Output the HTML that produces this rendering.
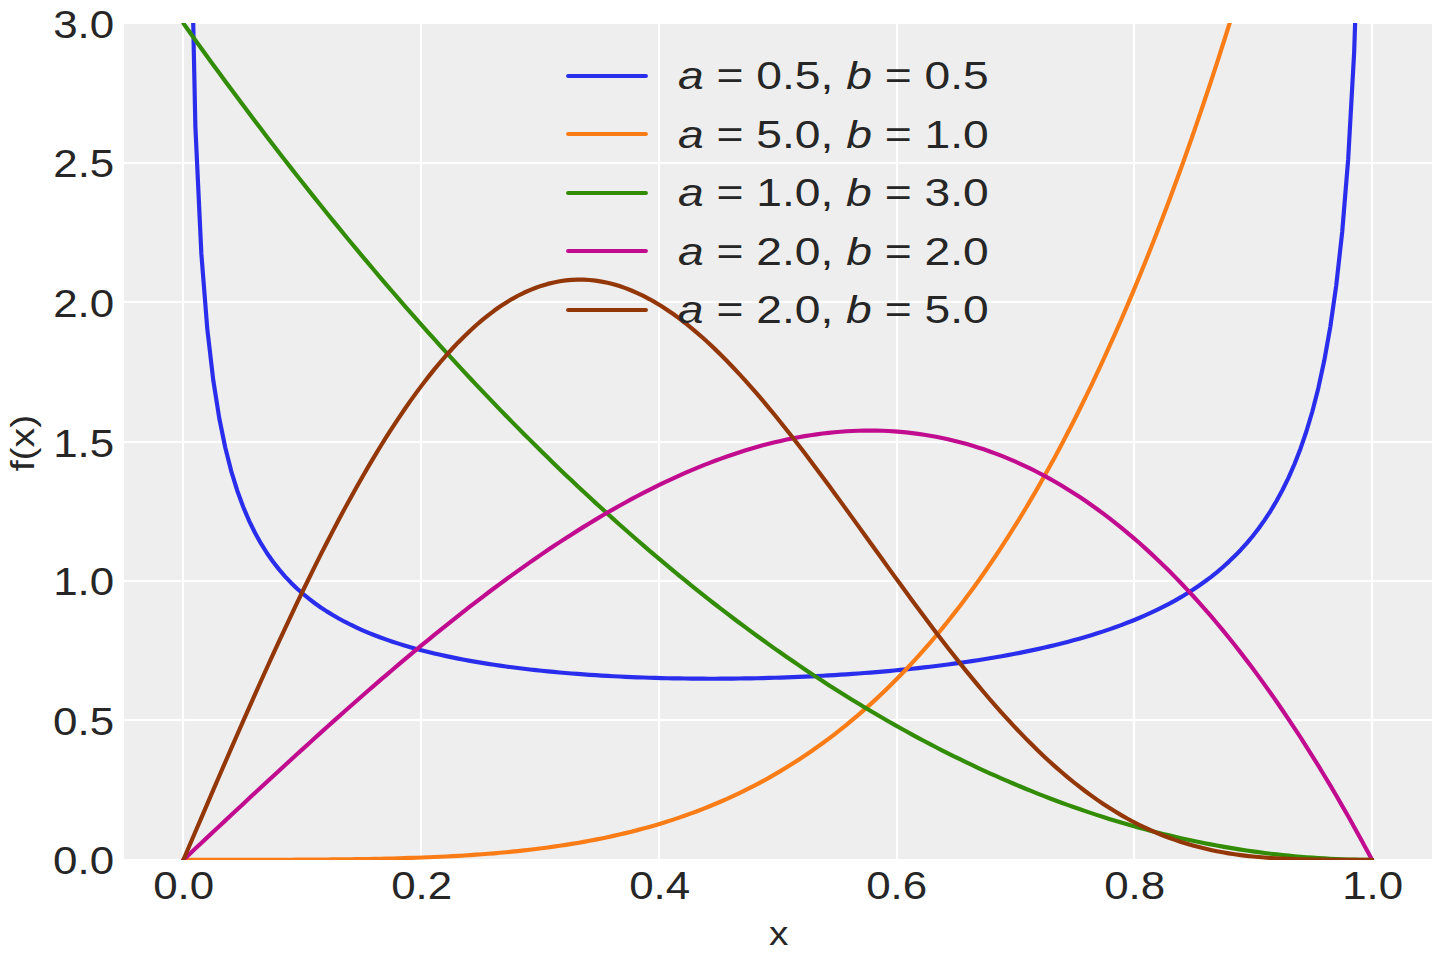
<!DOCTYPE html>
<html lang="en">
<head>
<meta charset="utf-8">
<title>Kumaraswamy distribution pdf</title>
<style>
html,body{margin:0;padding:0;background:#fff}
body{width:1440px;height:960px;overflow:hidden;font-family:"Liberation Sans",sans-serif;color:#262626}
svg{display:block;position:absolute;left:0;top:0}
.grid rect{fill:#fff}
.curve{fill:none;stroke-width:4.167;stroke-linejoin:round;stroke-linecap:round}
.txt text{font-family:"Liberation Sans",sans-serif;fill:#262626}
</style>
</head>
<body>
<svg width="1440" height="960" viewBox="0 0 1440 960" role="img" aria-label="Kumaraswamy probability density for several a, b">
<defs>
<clipPath id="axclip"><rect x="124" y="23" width="1308" height="837"/></clipPath>
<clipPath id="bgclip"><rect x="124" y="24" width="1308" height="835"/></clipPath>
</defs>
<rect width="1440" height="960" fill="#fff"/>
<rect x="124" y="24" width="1308" height="835" fill="#eee"/>
<g class="grid" clip-path="url(#bgclip)">
<rect x="181.889" y="24" width="2.222" height="835"/>
<rect x="419.889" y="24" width="2.222" height="835"/>
<rect x="657.889" y="24" width="2.222" height="835"/>
<rect x="895.889" y="24" width="2.222" height="835"/>
<rect x="1132.889" y="24" width="2.222" height="835"/>
<rect x="1370.889" y="24" width="2.222" height="835"/>
<rect x="124" y="161.889" width="1308" height="2.222"/>
<rect x="124" y="300.889" width="1308" height="2.222"/>
<rect x="124" y="440.889" width="1308" height="2.222"/>
<rect x="124" y="579.889" width="1308" height="2.222"/>
<rect x="124" y="718.889" width="1308" height="2.222"/>
</g>
<g clip-path="url(#axclip)">
<polyline class="curve" stroke="#2a2eec" points="189.40,-160.26 195.38,126.83 201.35,253.70 207.32,329.12 213.30,380.45 219.27,418.23 225.24,447.50 231.22,471.02 237.19,490.43 243.16,506.80 249.14,520.83 255.11,533.02 261.08,543.73 267.05,553.24 273.03,561.74 279.00,569.39 284.97,576.33 290.95,582.65 296.92,588.44 302.89,593.76 308.87,598.67 314.84,603.22 320.81,607.44 326.78,611.38 332.76,615.05 338.73,618.49 344.70,621.71 350.68,624.74 356.65,627.59 362.62,630.28 368.60,632.82 374.57,635.22 380.54,637.49 386.52,639.65 392.49,641.69 398.46,643.63 404.43,645.47 410.41,647.23 416.38,648.90 422.35,650.49 428.33,652.01 434.30,653.45 440.27,654.83 446.25,656.15 452.22,657.41 458.19,658.61 464.17,659.76 470.14,660.85 476.11,661.90 482.08,662.90 488.06,663.86 494.03,664.78 500.00,665.65 505.98,666.49 511.95,667.29 517.92,668.05 523.90,668.78 529.87,669.47 535.84,670.13 541.81,670.77 547.79,671.37 553.76,671.94 559.73,672.48 565.71,673.00 571.68,673.49 577.65,673.95 583.63,674.39 589.60,674.81 595.57,675.20 601.55,675.57 607.52,675.91 613.49,676.24 619.46,676.54 625.44,676.82 631.41,677.08 637.38,677.32 643.36,677.54 649.33,677.74 655.30,677.92 661.28,678.08 667.25,678.22 673.22,678.35 679.19,678.45 685.17,678.54 691.14,678.61 697.11,678.66 703.09,678.70 709.06,678.71 715.03,678.71 721.01,678.69 726.98,678.66 732.95,678.60 738.93,678.54 744.90,678.45 750.87,678.34 756.84,678.22 762.82,678.09 768.79,677.93 774.76,677.76 780.74,677.57 786.71,677.36 792.68,677.14 798.66,676.90 804.63,676.64 810.60,676.36 816.57,676.06 822.55,675.75 828.52,675.42 834.49,675.07 840.47,674.70 846.44,674.31 852.41,673.91 858.39,673.48 864.36,673.04 870.33,672.57 876.31,672.08 882.28,671.58 888.25,671.05 894.22,670.50 900.20,669.92 906.17,669.33 912.14,668.71 918.12,668.07 924.09,667.40 930.06,666.71 936.04,666.00 942.01,665.26 947.98,664.49 953.95,663.69 959.93,662.87 965.90,662.01 971.87,661.13 977.85,660.22 983.82,659.27 989.79,658.29 995.77,657.28 1001.74,656.23 1007.71,655.14 1013.69,654.02 1019.66,652.85 1025.63,651.65 1031.60,650.40 1037.58,649.11 1043.55,647.78 1049.52,646.39 1055.50,644.96 1061.47,643.47 1067.44,641.93 1073.42,640.33 1079.39,638.67 1085.36,636.94 1091.33,635.16 1097.31,633.30 1103.28,631.36 1109.25,629.36 1115.23,627.26 1121.20,625.09 1127.17,622.82 1133.15,620.45 1139.12,617.98 1145.09,615.40 1151.07,612.71 1157.04,609.88 1163.01,606.93 1168.98,603.83 1174.96,600.58 1180.93,597.16 1186.90,593.56 1192.88,589.77 1198.85,585.77 1204.82,581.54 1210.80,577.06 1216.77,572.31 1222.74,567.26 1228.72,561.87 1234.69,556.12 1240.66,549.96 1246.63,543.35 1252.61,536.22 1258.58,528.51 1264.55,520.14 1270.53,511.02 1276.50,501.03 1282.47,490.03 1288.45,477.83 1294.42,464.22 1300.39,448.90 1306.36,431.49 1312.34,411.48 1318.31,388.17 1324.28,360.54 1330.26,327.12 1336.23,285.56 1342.20,231.98 1348.18,159.23 1354.15,52.40 1360.12,-127.17 1366.10,-533.34"/>
<polyline class="curve" stroke="#fa7c17" points="183.43,859.80 189.40,859.80 195.38,859.80 201.35,859.80 207.32,859.80 213.30,859.80 219.27,859.80 225.24,859.80 231.22,859.80 237.19,859.79 243.16,859.79 249.14,859.79 255.11,859.78 261.08,859.77 267.05,859.77 273.03,859.75 279.00,859.74 284.97,859.73 290.95,859.71 296.92,859.68 302.89,859.66 308.87,859.63 314.84,859.59 320.81,859.55 326.78,859.51 332.76,859.45 338.73,859.39 344.70,859.33 350.68,859.25 356.65,859.17 362.62,859.08 368.60,858.98 374.57,858.87 380.54,858.75 386.52,858.61 392.49,858.47 398.46,858.31 404.43,858.13 410.41,857.95 416.38,857.74 422.35,857.52 428.33,857.29 434.30,857.03 440.27,856.76 446.25,856.47 452.22,856.15 458.19,855.82 464.17,855.46 470.14,855.08 476.11,854.68 482.08,854.24 488.06,853.79 494.03,853.30 500.00,852.79 505.98,852.24 511.95,851.67 517.92,851.06 523.90,850.42 529.87,849.74 535.84,849.03 541.81,848.28 547.79,847.49 553.76,846.67 559.73,845.80 565.71,844.89 571.68,843.93 577.65,842.93 583.63,841.89 589.60,840.79 595.57,839.65 601.55,838.46 607.52,837.21 613.49,835.91 619.46,834.56 625.44,833.15 631.41,831.67 637.38,830.14 643.36,828.55 649.33,826.90 655.30,825.18 661.28,823.39 667.25,821.54 673.22,819.61 679.19,817.61 685.17,815.54 691.14,813.40 697.11,811.18 703.09,808.88 709.06,806.49 715.03,804.03 721.01,801.48 726.98,798.84 732.95,796.12 738.93,793.31 744.90,790.40 750.87,787.40 756.84,784.30 762.82,781.11 768.79,777.81 774.76,774.41 780.74,770.91 786.71,767.30 792.68,763.58 798.66,759.75 804.63,755.81 810.60,751.75 816.57,747.58 822.55,743.28 828.52,738.87 834.49,734.33 840.47,729.66 846.44,724.86 852.41,719.93 858.39,714.87 864.36,709.67 870.33,704.33 876.31,698.85 882.28,693.23 888.25,687.46 894.22,681.55 900.20,675.48 906.17,669.26 912.14,662.88 918.12,656.34 924.09,649.65 930.06,642.78 936.04,635.76 942.01,628.56 947.98,621.19 953.95,613.64 959.93,605.92 965.90,598.02 971.87,589.94 977.85,581.66 983.82,573.20 989.79,564.55 995.77,555.71 1001.74,546.66 1007.71,537.42 1013.69,527.97 1019.66,518.32 1025.63,508.46 1031.60,498.39 1037.58,488.10 1043.55,477.59 1049.52,466.86 1055.50,455.91 1061.47,444.73 1067.44,433.32 1073.42,421.68 1079.39,409.80 1085.36,397.68 1091.33,385.31 1097.31,372.70 1103.28,359.84 1109.25,346.73 1115.23,333.36 1121.20,319.73 1127.17,305.84 1133.15,291.68 1139.12,277.25 1145.09,262.55 1151.07,247.58 1157.04,232.32 1163.01,216.78 1168.98,200.95 1174.96,184.83 1180.93,168.42 1186.90,151.71 1192.88,134.70 1198.85,117.39 1204.82,99.76 1210.80,81.83 1216.77,63.58 1222.74,45.01 1228.72,26.11 1234.69,6.89 1240.66,-12.66 1246.63,-32.54 1252.61,-52.76 1258.58,-73.33 1264.55,-94.24 1270.53,-115.50 1276.50,-137.11 1282.47,-159.08 1288.45,-181.41 1294.42,-204.10 1300.39,-227.17 1306.36,-250.61 1312.34,-274.42 1318.31,-298.62 1324.28,-323.20 1330.26,-348.17 1336.23,-373.53 1342.20,-399.29 1348.18,-425.45 1354.15,-452.02 1360.12,-479.00 1366.10,-506.39 1372.07,-534.20"/>
<polyline class="curve" stroke="#328c06" points="183.43,23.40 189.40,31.78 195.38,40.13 201.35,48.43 207.32,56.69 213.30,64.90 219.27,73.08 225.24,81.21 231.22,89.30 237.19,97.34 243.16,105.35 249.14,113.31 255.11,121.23 261.08,129.11 267.05,136.94 273.03,144.74 279.00,152.49 284.97,160.20 290.95,167.87 296.92,175.49 302.89,183.07 308.87,190.61 314.84,198.11 320.81,205.57 326.78,212.98 332.76,220.35 338.73,227.68 344.70,234.97 350.68,242.21 356.65,249.41 362.62,256.57 368.60,263.69 374.57,270.77 380.54,277.80 386.52,284.79 392.49,291.74 398.46,298.64 404.43,305.51 410.41,312.33 416.38,319.11 422.35,325.85 428.33,332.54 434.30,339.20 440.27,345.81 446.25,352.38 452.22,358.90 458.19,365.39 464.17,371.83 470.14,378.23 476.11,384.58 482.08,390.90 488.06,397.17 494.03,403.40 500.00,409.59 505.98,415.74 511.95,421.84 517.92,427.90 523.90,433.92 529.87,439.90 535.84,445.83 541.81,451.73 547.79,457.58 553.76,463.39 559.73,469.15 565.71,474.88 571.68,480.56 577.65,486.20 583.63,491.79 589.60,497.35 595.57,502.86 601.55,508.33 607.52,513.76 613.49,519.14 619.46,524.49 625.44,529.79 631.41,535.05 637.38,540.27 643.36,545.44 649.33,550.57 655.30,555.66 661.28,560.71 667.25,565.72 673.22,570.68 679.19,575.60 685.17,580.48 691.14,585.32 697.11,590.11 703.09,594.86 709.06,599.57 715.03,604.24 721.01,608.87 726.98,613.45 732.95,617.99 738.93,622.49 744.90,626.94 750.87,631.36 756.84,635.73 762.82,640.06 768.79,644.35 774.76,648.59 780.74,652.80 786.71,656.96 792.68,661.08 798.66,665.15 804.63,669.19 810.60,673.18 816.57,677.13 822.55,681.03 828.52,684.90 834.49,688.72 840.47,692.50 846.44,696.24 852.41,699.94 858.39,703.59 864.36,707.20 870.33,710.77 876.31,714.30 882.28,717.78 888.25,721.23 894.22,724.63 900.20,727.99 906.17,731.30 912.14,734.58 918.12,737.81 924.09,741.00 930.06,744.14 936.04,747.25 942.01,750.31 947.98,753.33 953.95,756.31 959.93,759.24 965.90,762.14 971.87,764.99 977.85,767.80 983.82,770.57 989.79,773.29 995.77,775.97 1001.74,778.61 1007.71,781.21 1013.69,783.77 1019.66,786.28 1025.63,788.75 1031.60,791.18 1037.58,793.57 1043.55,795.91 1049.52,798.21 1055.50,800.47 1061.47,802.69 1067.44,804.87 1073.42,807.00 1079.39,809.09 1085.36,811.14 1091.33,813.14 1097.31,815.11 1103.28,817.03 1109.25,818.91 1115.23,820.75 1121.20,822.54 1127.17,824.30 1133.15,826.01 1139.12,827.68 1145.09,829.30 1151.07,830.89 1157.04,832.43 1163.01,833.93 1168.98,835.38 1174.96,836.80 1180.93,838.17 1186.90,839.50 1192.88,840.79 1198.85,842.04 1204.82,843.24 1210.80,844.40 1216.77,845.52 1222.74,846.60 1228.72,847.63 1234.69,848.63 1240.66,849.58 1246.63,850.49 1252.61,851.35 1258.58,852.18 1264.55,852.96 1270.53,853.70 1276.50,854.39 1282.47,855.05 1288.45,855.66 1294.42,856.23 1300.39,856.76 1306.36,857.24 1312.34,857.69 1318.31,858.09 1324.28,858.45 1330.26,858.77 1336.23,859.04 1342.20,859.27 1348.18,859.46 1354.15,859.61 1360.12,859.72 1366.10,859.78 1372.07,859.80"/>
<polyline class="curve" stroke="#c10c90" points="183.43,859.80 189.40,854.20 195.38,848.59 201.35,842.99 207.32,837.39 213.30,831.80 219.27,826.21 225.24,820.62 231.22,815.04 237.19,809.47 243.16,803.90 249.14,798.34 255.11,792.80 261.08,787.26 267.05,781.73 273.03,776.22 279.00,770.72 284.97,765.23 290.95,759.75 296.92,754.29 302.89,748.85 308.87,743.43 314.84,738.02 320.81,732.63 326.78,727.26 332.76,721.91 338.73,716.58 344.70,711.28 350.68,705.99 356.65,700.73 362.62,695.50 368.60,690.29 374.57,685.11 380.54,679.95 386.52,674.83 392.49,669.73 398.46,664.66 404.43,659.62 410.41,654.61 416.38,649.64 422.35,644.70 428.33,639.79 434.30,634.92 440.27,630.08 446.25,625.28 452.22,620.51 458.19,615.79 464.17,611.10 470.14,606.46 476.11,601.85 482.08,597.29 488.06,592.77 494.03,588.29 500.00,583.85 505.98,579.47 511.95,575.12 517.92,570.83 523.90,566.58 529.87,562.38 535.84,558.23 541.81,554.13 547.79,550.08 553.76,546.08 559.73,542.13 565.71,538.24 571.68,534.40 577.65,530.62 583.63,526.89 589.60,523.22 595.57,519.61 601.55,516.06 607.52,512.56 613.49,509.13 619.46,505.76 625.44,502.45 631.41,499.20 637.38,496.01 643.36,492.90 649.33,489.84 655.30,486.85 661.28,483.93 667.25,481.08 673.22,478.30 679.19,475.58 685.17,472.94 691.14,470.36 697.11,467.86 703.09,465.44 709.06,463.08 715.03,460.80 721.01,458.60 726.98,456.47 732.95,454.42 738.93,452.45 744.90,450.56 750.87,448.75 756.84,447.01 762.82,445.36 768.79,443.80 774.76,442.31 780.74,440.91 786.71,439.59 792.68,438.36 798.66,437.22 804.63,436.16 810.60,435.20 816.57,434.32 822.55,433.53 828.52,432.83 834.49,432.22 840.47,431.71 846.44,431.29 852.41,430.96 858.39,430.73 864.36,430.60 870.33,430.56 876.31,430.62 882.28,430.78 888.25,431.03 894.22,431.39 900.20,431.85 906.17,432.41 912.14,433.07 918.12,433.84 924.09,434.71 930.06,435.69 936.04,436.77 942.01,437.96 947.98,439.26 953.95,440.66 959.93,442.18 965.90,443.81 971.87,445.54 977.85,447.39 983.82,449.35 989.79,451.43 995.77,453.62 1001.74,455.93 1007.71,458.35 1013.69,460.89 1019.66,463.55 1025.63,466.32 1031.60,469.22 1037.58,472.24 1043.55,475.37 1049.52,478.63 1055.50,482.02 1061.47,485.53 1067.44,489.16 1073.42,492.92 1079.39,496.80 1085.36,500.81 1091.33,504.95 1097.31,509.22 1103.28,513.62 1109.25,518.15 1115.23,522.81 1121.20,527.61 1127.17,532.53 1133.15,537.59 1139.12,542.79 1145.09,548.12 1151.07,553.59 1157.04,559.20 1163.01,564.94 1168.98,570.83 1174.96,576.85 1180.93,583.02 1186.90,589.32 1192.88,595.77 1198.85,602.37 1204.82,609.10 1210.80,615.99 1216.77,623.01 1222.74,630.19 1228.72,637.51 1234.69,644.98 1240.66,652.61 1246.63,660.38 1252.61,668.30 1258.58,676.37 1264.55,684.60 1270.53,692.98 1276.50,701.52 1282.47,710.21 1288.45,719.06 1294.42,728.06 1300.39,737.22 1306.36,746.55 1312.34,756.03 1318.31,765.67 1324.28,775.47 1330.26,785.43 1336.23,795.56 1342.20,805.85 1348.18,816.31 1354.15,826.93 1360.12,837.72 1366.10,848.68 1372.07,859.80"/>
<polyline class="curve" stroke="#933708" points="183.43,859.80 189.40,845.79 195.38,831.79 201.35,817.81 207.32,803.85 213.30,789.93 219.27,776.04 225.24,762.21 231.22,748.44 237.19,734.74 243.16,721.11 249.14,707.56 255.11,694.11 261.08,680.76 267.05,667.51 273.03,654.38 279.00,641.38 284.97,628.51 290.95,615.77 296.92,603.18 302.89,590.75 308.87,578.48 314.84,566.37 320.81,554.44 326.78,542.70 332.76,531.14 338.73,519.78 344.70,508.62 350.68,497.67 356.65,486.94 362.62,476.42 368.60,466.14 374.57,456.08 380.54,446.26 386.52,436.69 392.49,427.36 398.46,418.29 404.43,409.48 410.41,400.92 416.38,392.64 422.35,384.62 428.33,376.88 434.30,369.42 440.27,362.24 446.25,355.35 452.22,348.74 458.19,342.43 464.17,336.41 470.14,330.68 476.11,325.26 482.08,320.13 488.06,315.31 494.03,310.79 500.00,306.57 505.98,302.66 511.95,299.06 517.92,295.76 523.90,292.77 529.87,290.09 535.84,287.72 541.81,285.65 547.79,283.89 553.76,282.43 559.73,281.28 565.71,280.43 571.68,279.89 577.65,279.64 583.63,279.69 589.60,280.03 595.57,280.67 601.55,281.60 607.52,282.81 613.49,284.31 619.46,286.09 625.44,288.14 631.41,290.47 637.38,293.07 643.36,295.93 649.33,299.05 655.30,302.43 661.28,306.06 667.25,309.93 673.22,314.05 679.19,318.40 685.17,322.98 691.14,327.78 697.11,332.80 703.09,338.04 709.06,343.48 715.03,349.12 721.01,354.96 726.98,360.98 732.95,367.18 738.93,373.56 744.90,380.10 750.87,386.80 756.84,393.65 762.82,400.65 768.79,407.79 774.76,415.05 780.74,422.44 786.71,429.94 792.68,437.55 798.66,445.26 804.63,453.06 810.60,460.95 816.57,468.91 822.55,476.94 828.52,485.04 834.49,493.18 840.47,501.37 846.44,509.60 852.41,517.86 858.39,526.14 864.36,534.43 870.33,542.73 876.31,551.04 882.28,559.33 888.25,567.60 894.22,575.86 900.20,584.08 906.17,592.27 912.14,600.41 918.12,608.50 924.09,616.53 930.06,624.49 936.04,632.39 942.01,640.21 947.98,647.94 953.95,655.58 959.93,663.13 965.90,670.58 971.87,677.91 977.85,685.14 983.82,692.25 989.79,699.23 995.77,706.09 1001.74,712.82 1007.71,719.41 1013.69,725.86 1019.66,732.17 1025.63,738.33 1031.60,744.34 1037.58,750.20 1043.55,755.90 1049.52,761.45 1055.50,766.83 1061.47,772.05 1067.44,777.11 1073.42,782.00 1079.39,786.72 1085.36,791.28 1091.33,795.67 1097.31,799.89 1103.28,803.94 1109.25,807.83 1115.23,811.55 1121.20,815.10 1127.17,818.49 1133.15,821.71 1139.12,824.78 1145.09,827.68 1151.07,830.43 1157.04,833.02 1163.01,835.46 1168.98,837.75 1174.96,839.90 1180.93,841.90 1186.90,843.77 1192.88,845.50 1198.85,847.10 1204.82,848.58 1210.80,849.94 1216.77,851.18 1222.74,852.31 1228.72,853.33 1234.69,854.25 1240.66,855.08 1246.63,855.82 1252.61,856.47 1258.58,857.04 1264.55,857.54 1270.53,857.98 1276.50,858.35 1282.47,858.66 1288.45,858.92 1294.42,859.14 1300.39,859.31 1306.36,859.45 1312.34,859.56 1318.31,859.64 1324.28,859.70 1330.26,859.74 1336.23,859.77 1342.20,859.78 1348.18,859.79 1354.15,859.80 1360.12,859.80 1366.10,859.80 1372.07,859.80"/>
</g>
<g class="legend">
<line class="curve" stroke="#2a2eec" x1="568.11" y1="76" x2="645.89" y2="76"/>
<line class="curve" stroke="#fa7c17" x1="568.11" y1="134" x2="645.89" y2="134"/>
<line class="curve" stroke="#328c06" x1="568.11" y1="193" x2="645.89" y2="193"/>
<line class="curve" stroke="#c10c90" x1="568.11" y1="251" x2="645.89" y2="251"/>
<line class="curve" stroke="#933708" x1="568.11" y1="310" x2="645.89" y2="310"/>
</g>
<g class="txt">
<text x="153.169" y="898.982" font-size="38.889" textLength="61" lengthAdjust="spacingAndGlyphs">0.0</text>
<text x="391.156" y="898.972" font-size="38.889" textLength="61" lengthAdjust="spacingAndGlyphs">0.2</text>
<text x="629.184" y="898.972" font-size="38.889" textLength="61" lengthAdjust="spacingAndGlyphs">0.4</text>
<text x="866.181" y="898.812" font-size="38.889" textLength="61" lengthAdjust="spacingAndGlyphs">0.6</text>
<text x="1104.178" y="898.942" font-size="38.889" textLength="61" lengthAdjust="spacingAndGlyphs">0.8</text>
<text x="1342.185" y="898.972" font-size="38.889" textLength="61" lengthAdjust="spacingAndGlyphs">1.0</text>
<text x="769.115" y="944.789" font-size="33.333" textLength="19.4" lengthAdjust="spacingAndGlyphs">x</text>
<text x="53.102" y="873.885" font-size="38.889" textLength="61" lengthAdjust="spacingAndGlyphs">0.0</text>
<text x="53.062" y="734.995" font-size="38.889" textLength="61" lengthAdjust="spacingAndGlyphs">0.5</text>
<text x="53.202" y="594.965" font-size="38.889" textLength="61" lengthAdjust="spacingAndGlyphs">1.0</text>
<text x="53.142" y="456.915" font-size="38.889" textLength="61" lengthAdjust="spacingAndGlyphs">1.5</text>
<text x="53.212" y="316.945" font-size="38.889" textLength="61" lengthAdjust="spacingAndGlyphs">2.0</text>
<text x="53.252" y="176.955" font-size="38.889" textLength="61" lengthAdjust="spacingAndGlyphs">2.5</text>
<text x="53.192" y="37.995" font-size="38.889" textLength="61" lengthAdjust="spacingAndGlyphs">3.0</text>
<text x="33.789" y="471.357" font-size="33.333" textLength="56.6" lengthAdjust="spacingAndGlyphs" transform="rotate(-90 33.789 471.357)">f(x)</text>
<text x="677.93" y="88.819" font-size="38.889" textLength="310.8" lengthAdjust="spacingAndGlyphs"><tspan font-style="italic">a</tspan> = 0.5, <tspan font-style="italic">b</tspan> = 0.5</text>
<text x="677.92" y="147.981" font-size="38.889" textLength="310.8" lengthAdjust="spacingAndGlyphs"><tspan font-style="italic">a</tspan> = 5.0, <tspan font-style="italic">b</tspan> = 1.0</text>
<text x="677.91" y="205.983" font-size="38.889" textLength="310.8" lengthAdjust="spacingAndGlyphs"><tspan font-style="italic">a</tspan> = 1.0, <tspan font-style="italic">b</tspan> = 3.0</text>
<text x="677.97" y="264.924" font-size="38.889" textLength="310.8" lengthAdjust="spacingAndGlyphs"><tspan font-style="italic">a</tspan> = 2.0, <tspan font-style="italic">b</tspan> = 2.0</text>
<text x="677.88" y="322.886" font-size="38.889" textLength="310.8" lengthAdjust="spacingAndGlyphs"><tspan font-style="italic">a</tspan> = 2.0, <tspan font-style="italic">b</tspan> = 5.0</text>
</g>
</svg>
</body>
</html>
